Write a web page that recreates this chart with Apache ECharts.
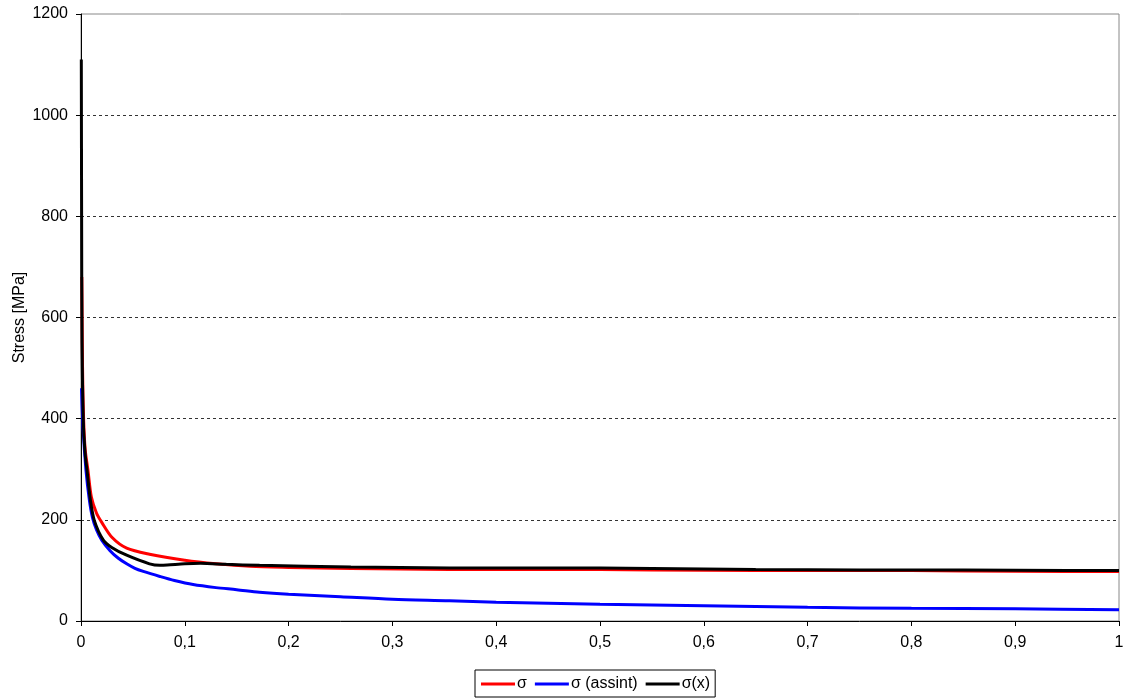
<!DOCTYPE html>
<html>
<head>
<meta charset="utf-8">
<script src="https://cdn.jsdelivr.net/npm/echarts@6/dist/echarts.min.js"></script>
<style>html,body{margin:0;padding:0;background:#fff;}#c{width:1123px;height:699px;}</style>
</head>
<body>
<div id="c"></div>
<script>
// σ (red)
var sigmaX = [0.0008, 0.0015, 0.0025, 0.004, 0.0067, 0.01, 0.015, 0.02, 0.03, 0.044, 0.066, 0.1, 0.13, 0.163, 0.2, 0.26, 0.355, 0.45, 0.55, 0.65, 0.75, 0.85, 0.95, 1.0];
var sigmaY = [680, 500, 400, 340, 298, 245, 213, 195, 165, 144, 132, 120, 113, 108, 106, 104, 102, 102, 101, 100, 100, 99, 98, 98];
// σ (assint) (blue)
var assintX = [0.0005, 0.002, 0.0048, 0.008, 0.011, 0.015, 0.02, 0.028, 0.036, 0.044, 0.052, 0.06, 0.076, 0.09, 0.108, 0.13, 0.15, 0.172, 0.2, 0.25, 0.3, 0.355, 0.4, 0.5, 0.6, 0.7, 0.8, 0.9, 1.0];
var assintY = [460, 380, 298, 240, 205, 180, 160, 139, 124, 113, 104, 98, 88, 80, 72, 66, 62, 57, 53, 48, 43, 40, 37, 33, 30, 27, 25, 24, 22];
// σ(x) (black)
var sxX = [0.0003, 0.0006, 0.001, 0.0022, 0.004, 0.0058, 0.009, 0.0128, 0.0215, 0.03, 0.044, 0.066, 0.076, 0.083, 0.1, 0.115, 0.14, 0.172, 0.26, 0.355, 0.45, 0.55, 0.65, 0.75, 0.85, 0.95, 1.0];
var sxY = [1110, 800, 550, 397, 330, 298, 240, 199, 160, 145, 130, 113, 110, 110.5, 113, 114, 112, 110, 107, 105, 105, 104, 102, 101, 101, 100, 100];
var seriesNames = ['σ', 'σ (assint)', 'σ(x)'];
var yTicks = [0, 200, 400, 600, 800, 1000, 1200];

function pairs(xs, ys) { return xs.map(function (x, i) { return [x, ys[i]]; }); }

var chart = echarts.init(document.getElementById('c'));
var font = 'Liberation Sans, Arial, sans-serif';
chart.setOption({
  animation: false,
  backgroundColor: '#fff',
  textStyle: { fontFamily: font },
  grid: { left: 81, right: 4, top: 14, bottom: 78, show: true, borderColor: '#888', borderWidth: 1,
          containLabel: false, outerBoundsMode: 'none' },
  xAxis: {
    type: 'value', min: 0, max: 1, interval: 0.1,
    axisLine: { show: true, onZero: false, lineStyle: { color: '#000', width: 1 } },
    axisTick: { show: true, inside: false, length: 5, lineStyle: { color: '#000' } },
    axisLabel: { color: '#000', fontSize: 16, fontFamily: font, margin: 14,
      formatter: function (v) { return String(Math.round(v * 10) / 10).replace('.', ','); } },
    splitLine: { show: false }
  },
  yAxis: {
    type: 'value', min: 0, max: 1200, interval: 200,
    name: 'Stress [MPa]', nameLocation: 'middle', nameGap: 53, nameRotate: 90, nameMoveOverlap: false,
    nameTextStyle: { color: '#000', fontSize: 16, fontFamily: font },
    axisLine: { show: true, lineStyle: { color: '#000', width: 1 } },
    axisTick: { show: true, inside: false, length: 5, lineStyle: { color: '#000' } },
    axisLabel: { color: '#000', fontSize: 16, fontFamily: font, margin: 13,
      formatter: function (v) { return yTicks.indexOf(v) >= 0 ? String(v) : ''; } },
    splitLine: { show: true, showMinLine: false, showMaxLine: false, lineStyle: { color: '#333', type: [3, 3], width: 1 } }
  },
  legend: {
    bottom: 2, left: 475,
    data: seriesNames,
    icon: 'rect', itemWidth: 34, itemHeight: 3, itemGap: 8,
    borderColor: '#000', borderWidth: 1, padding: [6, 5, 5, 6],
    textStyle: { color: '#000', fontSize: 16, fontFamily: font, padding: [0, 0, 0, -3] }
  },
  series: [
    { name: seriesNames[0], type: 'line', data: pairs(sigmaX, sigmaY), showSymbol: false, symbol: 'none', smooth: 0.3,
      lineStyle: { color: '#ff0000', width: 3 }, itemStyle: { color: '#ff0000' }, z: 2 },
    { name: seriesNames[1], type: 'line', data: pairs(assintX, assintY), showSymbol: false, symbol: 'none', smooth: 0.3,
      lineStyle: { color: '#0000ff', width: 3 }, itemStyle: { color: '#0000ff' }, z: 3 },
    { name: seriesNames[2], type: 'line', data: pairs(sxX, sxY), showSymbol: false, symbol: 'none', smooth: 0.3,
      lineStyle: { color: '#000000', width: 3 }, itemStyle: { color: '#000000' }, z: 4 }
  ]
});
</script>
</body>
</html>
